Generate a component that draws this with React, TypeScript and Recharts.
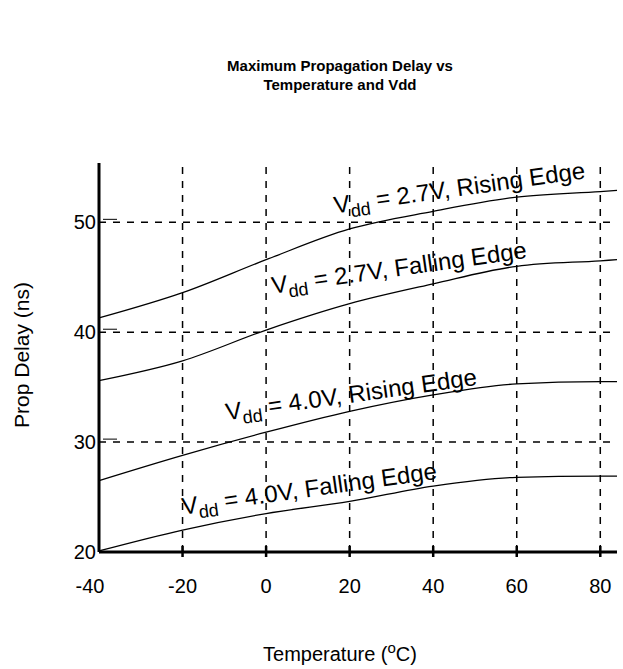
import { LineChart, Line, XAxis, YAxis, ReferenceLine, ReferenceDot } from "recharts";

// temperature (°C) sample points along the curves
const temps = [-40, -20, 0, 20, 40, 60, 80, 84];

// prop delay (ns) per curve
const rise27 = [41.3, 43.6, 46.6, 49.4, 51.0, 52.3, 52.8, 52.9];
const fall27 = [35.6, 37.4, 40.2, 42.6, 44.4, 46.0, 46.5, 46.6];
const rise40 = [26.5, 28.8, 30.9, 32.8, 34.3, 35.3, 35.5, 35.5];
const fall40 = [20.1, 22.0, 23.5, 24.6, 26.0, 26.8, 26.9, 26.9];

const xTicks = [-40, -20, 0, 20, 40, 60, 80];
const yTicks = [20, 30, 40, 50];

// dashed grid positions
const xGrid = [-20, 0, 20, 40, 60, 80];
const yGrid = [30, 40, 50];

// inline curve labels: text after "Vdd = ", anchored at (temp, ns)
const labelTexts = ["2.7V, Rising Edge", "2.7V, Falling Edge", "4.0V, Rising Edge", "4.0V, Falling Edge"];
const labelTemps = [16.5, 1.6, -9.4, -19.9];
const labelValues = [50.8, 43.5, 32.0, 23.4];

const data = temps.map((t, i) => ({
  t,
  rise27: rise27[i],
  fall27: fall27[i],
  rise40: rise40[i],
  fall40: fall40[i],
}));

const FONT = "Arial, 'Liberation Sans', Helvetica, sans-serif";

function CurveLabel({ cx, cy, text }: { cx: number; cy: number; text: string }) {
  return (
    <text
      x={cx}
      y={cy}
      transform={`rotate(-8 ${cx} ${cy})`}
      fontFamily={FONT}
      fontSize={24}
      fill="#000"
    >
      V
      <tspan fontSize={18} dy={6}>dd</tspan>
      <tspan dy={-6}>{` = ${text}`}</tspan>
    </text>
  );
}

function YTick(props: any) {
  const { x, y, payload } = props;
  return (
    <g>
      <text x={x} y={y} dy={7} textAnchor="end" fontFamily={FONT} fontSize={20} fill="#000">
        {payload.value}
      </text>
      {payload.value !== 20 && <line x1={x + 7} x2={x + 21} y1={y - 3} y2={y - 3} stroke="#000" strokeWidth={1} />}
    </g>
  );
}

function XTick(props: any) {
  const { x, y, payload } = props;
  const first = payload.value === -40;
  return (
    <g>
      {!first && <line x1={x} x2={x} y1={y - 6} y2={y + 5} stroke="#000" strokeWidth={2.5} />}
      <text x={x} y={y} dx={first ? -9 : 0} dy={41} textAnchor="middle" fontFamily={FONT} fontSize={20} fill="#000">
        {payload.value}
      </text>
    </g>
  );
}

const series = ["rise27", "fall27", "rise40", "fall40"];

export default function App() {
  return (
    <div style={{ position: "absolute", left: 0, top: 0, width: 623, height: 669, background: "#fff" }}>
      <div
        style={{
          position: "absolute",
          left: 140,
          top: 56,
          width: 400,
          textAlign: "center",
          fontFamily: FONT,
          fontWeight: "bold",
          fontSize: 15,
          lineHeight: "19px",
          color: "#000",
        }}
      >
        Maximum Propagation Delay vs
        <br />
        Temperature and Vdd
      </div>
      <LineChart width={623} height={669} data={data} margin={{ top: 163, right: 6, bottom: 77, left: 39 }}>
        {xGrid.map((v) => (
          <ReferenceLine key={`x${v}`} x={v} stroke="#000" strokeWidth={1.5} strokeDasharray="7 7" />
        ))}
        {yGrid.map((v) => (
          <ReferenceLine key={`y${v}`} y={v} stroke="#000" strokeWidth={1.5} strokeDasharray="7 7" />
        ))}
        <XAxis
          dataKey="t"
          type="number"
          domain={[-40, 84]}
          ticks={xTicks}
          height={40}
          axisLine={{ stroke: "#000", strokeWidth: 3 }}
          tickLine={false}
          tickSize={0}
          tickMargin={0}
          tick={<XTick />}
          label={() => (
            <text x={340} y={661} textAnchor="middle" fontFamily={FONT} fontSize={20} fill="#000">
              Temperature (
              <tspan fontSize={15} dy={-8}>o</tspan>
              <tspan dy={8}>C)</tspan>
            </text>
          )}
        />
        <YAxis
          type="number"
          domain={[20, 55.4]}
          ticks={yTicks}
          width={60}
          axisLine={{ stroke: "#000", strokeWidth: 3 }}
          tickLine={false}
          tickSize={0}
          tickMargin={3}
          tick={<YTick />}
          label={() => (
            <text
              x={29}
              y={355}
              transform="rotate(-90 29 355)"
              textAnchor="middle"
              fontFamily={FONT}
              fontSize={21}
              fill="#000"
            >
              Prop Delay (ns)
            </text>
          )}
        />
        {series.map((key) => (
          <Line
            key={key}
            dataKey={key}
            type="monotone"
            stroke="#000"
            strokeWidth={1.3}
            dot={false}
            isAnimationActive={false}
          />
        ))}
        {labelTexts.map((text, i) => (
          <ReferenceDot
            key={text}
            x={labelTemps[i]}
            y={labelValues[i]}
            r={0}
            ifOverflow="visible"
            shape={(p: any) => <CurveLabel cx={p.cx} cy={p.cy} text={text} />}
          />
        ))}
      </LineChart>
    </div>
  );
}
